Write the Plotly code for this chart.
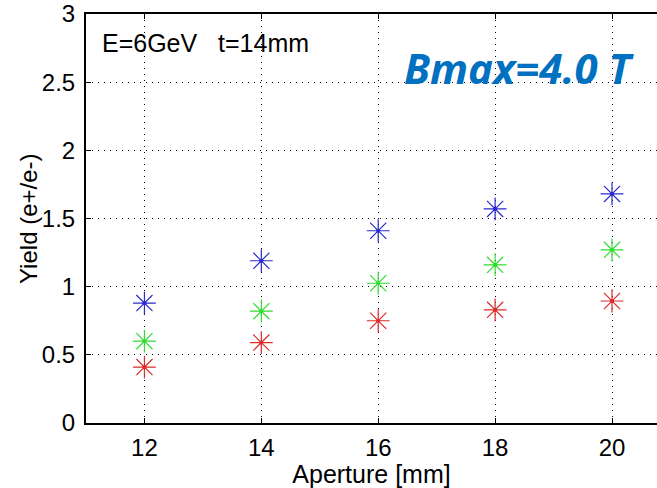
import plotly.graph_objects as go

# Aperture scan, E = 6 GeV, target thickness 14 mm
aperture = [12, 14, 16, 18, 20]
yield_blue = [0.88, 1.19, 1.41, 1.57, 1.68]
yield_green = [0.60, 0.82, 1.025, 1.16, 1.27]
yield_red = [0.41, 0.59, 0.75, 0.83, 0.895]

x_ticks = [12, 14, 16, 18, 20]
y_ticks = [0, 0.5, 1, 1.5, 2, 2.5, 3]
y_tick_text = ["0", "0.5", "1", "1.5", "2", "2.5", "3"]

fig = go.Figure()
for ys, col in [(yield_blue, "#2a2ad0"), (yield_green, "#30dd30"), (yield_red, "#dd2a2a")]:
    fig.add_trace(go.Scatter(
        x=aperture, y=ys, mode="markers",
        marker=dict(symbol="asterisk-open", size=19, color=col,
                    line=dict(color=col, width=1.2)),
        showlegend=False, cliponaxis=False,
    ))
    # small centre dot of each star
    fig.add_trace(go.Scatter(
        x=aperture, y=ys, mode="markers",
        marker=dict(symbol="circle", size=4, color=col),
        showlegend=False, hoverinfo="skip",
    ))

font_family = "Liberation Sans, Arial, sans-serif"
tick_font = dict(family=font_family, size=24, color="black")
title_font = dict(family=font_family, size=25, color="black")

fig.update_layout(
    width=657, height=488,
    margin=dict(l=86, r=0, t=14, b=65),
    paper_bgcolor="white", plot_bgcolor="white",
    font=tick_font,
    xaxis=dict(
        range=[11, 20.77], tickvals=x_ticks,
        showline=True, linecolor="black", linewidth=2, mirror="ticks",
        ticks="inside", ticklen=5, tickcolor="black", tickwidth=1,
        showgrid=True, gridcolor="black", griddash="1px,5px", gridwidth=1,
        zeroline=False, tickfont=tick_font, ticklabelstandoff=2,
        title=dict(text="Aperture [mm]", font=title_font, standoff=0),
    ),
    yaxis=dict(
        range=[0, 3], tickvals=y_ticks, ticktext=y_tick_text,
        showline=True, linecolor="black", linewidth=2, mirror=False,
        ticks="inside", ticklen=5, tickcolor="black", tickwidth=1,
        showgrid=True, gridcolor="black", griddash="1px,5px", gridwidth=1,
        zeroline=False, tickfont=tick_font, ticklabelstandoff=4,
    ),
    annotations=[
        dict(text="E=6GeV   t=14mm", x=100, y=43, xref="paper", yref="paper",
             showarrow=False, font=dict(family=font_family, size=25, color="black"),
             xanchor="left", yanchor="middle"),
        dict(text="<b><i>Bmax=4.0 T</i></b>", x=636, y=67, xref="paper", yref="paper",
             showarrow=False, font=dict(family="Open Sans, sans-serif", size=42, color="#0070C0"),
             xanchor="right", yanchor="middle"),
        # y-axis title
        dict(text="Yield (e+/e-)", x=28, y=219, xref="paper", yref="paper",
             showarrow=False, textangle=-90,
             font=dict(family=font_family, size=24, color="black"),
             xanchor="center", yanchor="middle"),
    ],
)

# place text annotations in pixel coordinates of the plotting area
pw = 657 - 86
ph = 488 - 14 - 65
for a in fig.layout.annotations:
    a.x = (a.x - 86) / pw
    a.y = 1 - (a.y - 14) / ph

fig.write_html("out.html")
